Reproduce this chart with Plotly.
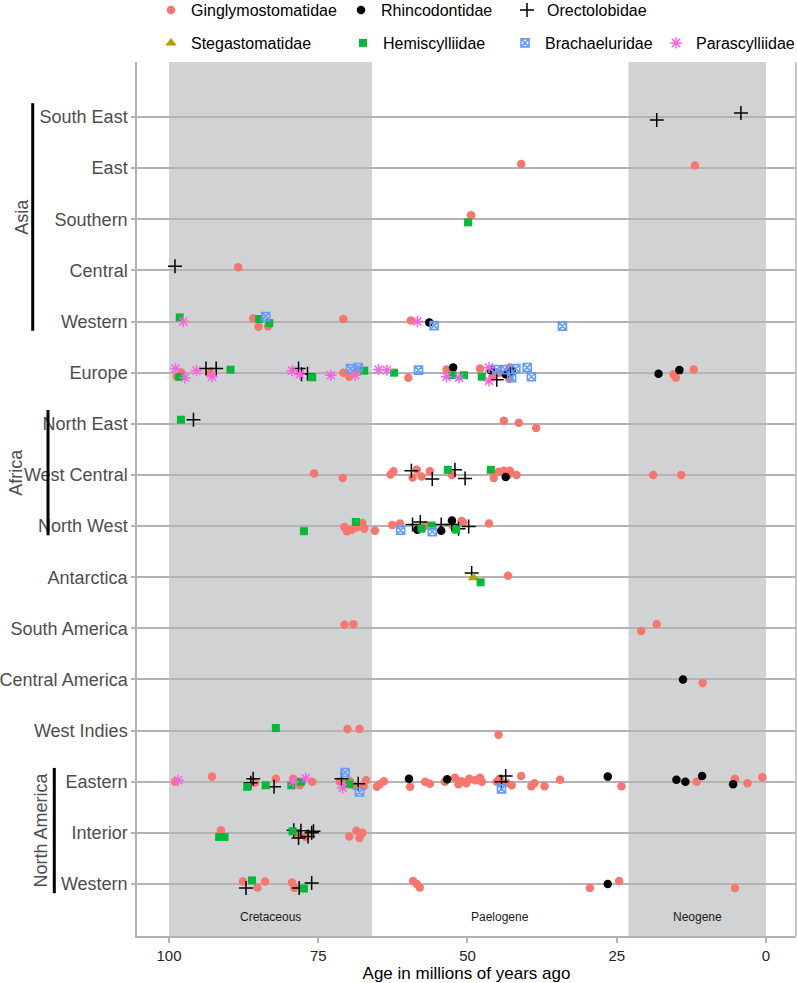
import plotly.graph_objects as go

# ---------------- data ----------------
# regions, bottom -> top
region_keys = ["WNAm", "INAm", "ENAm", "WIndies", "CAm", "SAm", "Antarctica",
               "NWAfr", "WCAfr", "NEAfr", "Europe", "WAsia", "CAsia", "SAsia",
               "EAsia", "SEAsia"]
region_labels = ["Western", "Interior", "Eastern", "West Indies", "Central America",
                 "South America", "Antarctica", "North West", "West Central",
                 "North East", "Europe", "Western", "Central", "Southern", "East",
                 "South East"]

# (region, age in Ma, vertical jitter in row units)
ginglymostomatidae = [
    ("EAsia", 41.0, 0.08), ("EAsia", 11.9, 0.05),
    ("SAsia", 49.4, 0.08),
    ("CAsia", 88.4, 0.06),
    ("WAsia", 85.9, 0.06), ("WAsia", 85.0, -0.1), ("WAsia", 83.4, -0.09),
    ("WAsia", 70.8, 0.05), ("WAsia", 59.5, 0.02),
    ("Europe", 98.7, -0.08), ("Europe", 97.9, 0.0), ("Europe", 93.1, 0.0),
    ("Europe", 70.8, 0.0), ("Europe", 69.8, -0.08), ("Europe", 68.4, 0.05),
    ("Europe", 59.9, -0.1), ("Europe", 53.5, 0.06), ("Europe", 47.9, 0.08),
    ("Europe", 45.7, -0.07), ("Europe", 44.6, 0.0), ("Europe", 43.0, -0.12),
    ("Europe", 42.9, 0.1), ("Europe", 15.5, -0.03), ("Europe", 15.1, -0.1),
    ("Europe", 12.1, 0.06),
    ("NEAfr", 43.9, 0.06), ("NEAfr", 41.4, 0.02), ("NEAfr", 38.5, -0.08),
    ("WCAfr", 75.7, 0.03), ("WCAfr", 70.9, -0.06), ("WCAfr", 62.9, 0.01),
    ("WCAfr", 62.4, 0.07), ("WCAfr", 58.5, 0.1), ("WCAfr", 59.2, -0.05),
    ("WCAfr", 57.7, -0.03), ("WCAfr", 56.3, 0.07), ("WCAfr", 52.6, 0.0),
    ("WCAfr", 45.6, -0.06), ("WCAfr", 44.8, 0.06), ("WCAfr", 43.9, 0.08),
    ("WCAfr", 42.9, 0.08), ("WCAfr", 43.2, 0.0), ("WCAfr", 41.8, 0.0),
    ("WCAfr", 18.9, 0.0), ("WCAfr", 14.2, 0.0),
    ("NWAfr", 70.6, -0.02), ("NWAfr", 70.2, -0.1), ("NWAfr", 69.4, -0.07),
    ("NWAfr", 68.6, -0.03), ("NWAfr", 67.6, 0.06), ("NWAfr", 67.3, -0.05),
    ("NWAfr", 65.5, -0.09), ("NWAfr", 62.6, 0.02), ("NWAfr", 61.3, 0.05),
    ("NWAfr", 57.4, -0.02), ("NWAfr", 56.9, 0.01), ("NWAfr", 52.5, 0.01),
    ("NWAfr", 51.0, 0.1), ("NWAfr", 50.7, 0.07), ("NWAfr", 46.4, 0.05),
    ("Antarctica", 43.2, 0.03),
    ("SAm", 70.6, 0.07), ("SAm", 69.1, 0.08), ("SAm", 20.9, -0.05), ("SAm", 18.3, 0.08),
    ("CAm", 10.6, -0.07),
    ("WIndies", 70.1, 0.03), ("WIndies", 68.1, 0.03), ("WIndies", 44.8, -0.08),
    ("ENAm", 99.0, 0.0), ("ENAm", 92.8, 0.1), ("ENAm", 85.6, -0.02),
    ("ENAm", 82.1, 0.06), ("ENAm", 79.2, 0.06), ("ENAm", 78.1, -0.07),
    ("ENAm", 76.0, 0.0), ("ENAm", 71.4, 0.0), ("ENAm", 70.5, -0.05),
    ("ENAm", 69.7, 0.01), ("ENAm", 68.8, -0.09), ("ENAm", 67.4, -0.09),
    ("ENAm", 67.0, 0.03), ("ENAm", 65.2, -0.1), ("ENAm", 64.7, -0.05),
    ("ENAm", 64.0, 0.01), ("ENAm", 59.6, -0.1), ("ENAm", 57.1, 0.0),
    ("ENAm", 56.3, -0.04), ("ENAm", 53.8, 0.0), ("ENAm", 52.1, 0.08),
    ("ENAm", 51.5, -0.05), ("ENAm", 51.0, 0.01), ("ENAm", 50.2, -0.03),
    ("ENAm", 49.7, 0.06), ("ENAm", 48.7, 0.03), ("ENAm", 47.9, 0.08),
    ("ENAm", 47.6, 0.0), ("ENAm", 45.1, 0.0), ("ENAm", 44.6, 0.06),
    ("ENAm", 43.5, -0.02), ("ENAm", 42.6, -0.07), ("ENAm", 41.0, 0.11),
    ("ENAm", 39.3, -0.09), ("ENAm", 38.8, -0.03), ("ENAm", 37.1, -0.09),
    ("ENAm", 34.5, 0.04), ("ENAm", 24.2, -0.09), ("ENAm", 11.6, 0.0),
    ("ENAm", 5.2, 0.06), ("ENAm", 3.1, -0.03), ("ENAm", 0.6, 0.09),
    ("INAm", 91.3, 0.05), ("INAm", 78.3, -0.03), ("INAm", 77.1, -0.08),
    ("INAm", 69.8, -0.07), ("INAm", 68.6, 0.04), ("INAm", 68.1, -0.1),
    ("INAm", 67.6, 0.0),
    ("WNAm", 87.6, 0.05), ("WNAm", 85.2, -0.07), ("WNAm", 83.9, 0.05),
    ("WNAm", 79.4, 0.03), ("WNAm", 79.0, -0.08), ("WNAm", 59.1, 0.06),
    ("WNAm", 58.5, 0.0), ("WNAm", 58.0, -0.07), ("WNAm", 29.5, -0.08),
    ("WNAm", 24.6, 0.06), ("WNAm", 5.2, -0.08),
]

rhincodontidae = [
    ("WAsia", 56.4, -0.02),
    ("Europe", 52.4, 0.1), ("Europe", 46.1, 0.05), ("Europe", 43.6, -0.03),
    ("Europe", 42.6, 0.03), ("Europe", 18.0, -0.02), ("Europe", 14.5, 0.05),
    ("WCAfr", 43.6, -0.04),
    ("NWAfr", 58.4, -0.07), ("NWAfr", 54.4, -0.09), ("NWAfr", 52.6, 0.11),
    ("CAm", 13.9, 0.0),
    ("ENAm", 59.8, 0.06), ("ENAm", 53.4, 0.05), ("ENAm", 26.5, 0.1),
    ("ENAm", 15.0, 0.04), ("ENAm", 13.5, 0.0), ("ENAm", 10.7, 0.11),
    ("ENAm", 5.5, -0.05),
    ("WNAm", 26.5, 0.0),
]

orectolobidae = [
    ("SEAsia", 18.3, -0.06), ("SEAsia", 4.2, 0.08),
    ("CAsia", 99.0, 0.08),
    ("Europe", 93.8, 0.08), ("Europe", 92.1, 0.08), ("Europe", 78.3, 0.08),
    ("Europe", 77.8, -0.03), ("Europe", 76.8, -0.02), ("Europe", 45.1, -0.14),
    ("NEAfr", 95.9, 0.08),
    ("WCAfr", 59.4, 0.08), ("WCAfr", 55.9, -0.08), ("WCAfr", 52.1, 0.1),
    ("WCAfr", 50.4, -0.07),
    ("NWAfr", 59.2, 0.03), ("NWAfr", 57.9, 0.08), ("NWAfr", 54.4, 0.03),
    ("NWAfr", 52.6, 0.03), ("NWAfr", 51.5, -0.05), ("NWAfr", 49.8, -0.01),
    ("Antarctica", 49.3, 0.08),
    ("ENAm", 85.9, 0.06), ("ENAm", 86.3, -0.02), ("ENAm", 82.4, -0.1),
    ("ENAm", 71.1, 0.06), ("ENAm", 68.3, -0.04), ("ENAm", 43.6, 0.11),
    ("ENAm", 44.3, 0.0),
    ("INAm", 79.1, 0.05), ("INAm", 77.9, 0.04), ("INAm", 78.3, -0.1),
    ("INAm", 76.7, -0.07), ("INAm", 75.8, 0.03), ("INAm", 76.1, 0.0),
    ("WNAm", 87.1, -0.08), ("WNAm", 78.2, -0.08), ("WNAm", 76.1, 0.02),
]

stegastomatidae = [
    ("Antarctica", 49.0, -0.01),
]

hemiscylliidae = [
    ("SAsia", 49.9, -0.06),
    ("WAsia", 98.2, 0.08), ("WAsia", 84.9, 0.05), ("WAsia", 83.2, -0.03),
    ("Europe", 98.3, -0.08), ("Europe", 89.7, 0.06), ("Europe", 76.0, -0.09),
    ("Europe", 67.3, 0.04), ("Europe", 62.3, 0.0), ("Europe", 52.5, -0.05),
    ("Europe", 50.6, -0.05), ("Europe", 47.6, -0.08),
    ("NEAfr", 98.0, 0.08),
    ("WCAfr", 53.3, 0.1), ("WCAfr", 46.1, 0.1),
    ("NWAfr", 77.4, -0.1), ("NWAfr", 68.7, 0.08), ("NWAfr", 57.7, -0.05),
    ("NWAfr", 56.0, 0.01), ("NWAfr", 51.9, -0.07),
    ("Antarctica", 47.8, -0.1),
    ("WIndies", 82.1, 0.05),
    ("ENAm", 86.9, -0.1), ("ENAm", 83.8, -0.07), ("ENAm", 79.5, -0.07),
    ("ENAm", 77.9, 0.0), ("ENAm", 69.8, -0.05),
    ("INAm", 91.6, -0.08), ("INAm", 90.7, -0.08), ("INAm", 79.3, 0.03),
    ("WNAm", 86.1, 0.07), ("WNAm", 77.4, -0.09),
]

brachaeluridae = [
    ("WAsia", 83.8, 0.1), ("WAsia", 55.6, -0.08), ("WAsia", 34.1, -0.09),
    ("Europe", 69.6, 0.08), ("Europe", 68.3, 0.1), ("Europe", 58.2, 0.05),
    ("Europe", 45.1, 0.06), ("Europe", 43.7, 0.06), ("Europe", 42.6, -0.1),
    ("Europe", 41.9, 0.08), ("Europe", 40.0, 0.1), ("Europe", 39.3, -0.08),
    ("NWAfr", 61.2, -0.08), ("NWAfr", 55.9, -0.11),
    ("ENAm", 70.5, 0.18), ("ENAm", 68.1, -0.2), ("ENAm", 44.3, -0.14),
]

parascylliidae = [
    ("WAsia", 97.6, 0.0), ("WAsia", 58.4, 0.0),
    ("Europe", 98.9, 0.08), ("Europe", 97.3, -0.1), ("Europe", 95.4, 0.04),
    ("Europe", 92.8, -0.08), ("Europe", 79.4, 0.04), ("Europe", 78.1, -0.03),
    ("Europe", 72.9, -0.05), ("Europe", 68.8, -0.05), ("Europe", 64.9, 0.06),
    ("Europe", 63.5, 0.05), ("Europe", 53.5, -0.08), ("Europe", 51.4, -0.1),
    ("Europe", 46.4, 0.1), ("Europe", 46.4, -0.16),
    ("ENAm", 98.5, 0.03), ("ENAm", 79.2, 0.0), ("ENAm", 77.1, 0.07),
    ("ENAm", 70.9, -0.12),
]

periods = ["Cretaceous", "Paelogene", "Neogene"]
period_start = [100.0, 66.0, 23.03]
period_end = [66.0, 23.03, 0.0]
period_shaded = [True, False, True]

groups = ["Asia", "Africa", "North America"]
group_top = ["SEAsia", "NEAfr", "ENAm"]
group_bottom = ["WAsia", "NWAfr", "WNAm"]

x_ticks = [100, 75, 50, 25, 0]

# ---------------- figure ----------------
FONT = "Liberation Sans, Arial, Helvetica, sans-serif"
W, H = 797, 983
ML, MR, MT, MB = 137, 1, 62, 47
PW = W - ML - MR

def px_to_paper_x(px):
    return (px - ML) / PW

idx = {k: i + 1 for i, k in enumerate(region_keys)}

families = [
    ("Ginglymostomatidae", ginglymostomatidae,
     dict(symbol="circle", color="#F8766D", size=8.5, line=dict(width=0))),
    ("Rhincodontidae", rhincodontidae,
     dict(symbol="circle", color="#000000", size=8.5, line=dict(width=0))),
    ("Orectolobidae", orectolobidae,
     dict(symbol="cross-thin", color="#000000", size=10,
          line=dict(color="#000000", width=1.5))),
    ("Stegastomatidae", stegastomatidae,
     dict(symbol="triangle-up", color="#B79F00", size=10, line=dict(width=0))),
    ("Hemiscylliidae", hemiscylliidae,
     dict(symbol="square", color="#00BA38", size=8, line=dict(width=0))),
    ("Brachaeluridae", brachaeluridae,
     dict(symbol="square-x-open", color="#619CFF", size=8,
          line=dict(color="#619CFF", width=1.6))),
    ("Parascylliidae", parascylliidae,
     dict(symbol="asterisk-open", color="#F564E3", size=9.5,
          line=dict(color="#F564E3", width=1.5))),
]

# legend slot positions (marker centre in px) : 3 in first row, 4 in second
legend_px = [(171, 10), (361, 10), (527, 10),
             (171, 43), (363, 43), (525, 43), (676, 43)]
LEG_MARKER_OFFSET = 20   # px from legend left edge to symbol centre

fig = go.Figure()
legend_layouts = {}
for i, (name, pts, mk) in enumerate(families):
    lname = "legend" if i == 0 else f"legend{i + 1}"
    fig.add_trace(go.Scatter(
        x=[p[1] for p in pts],
        y=[idx[p[0]] + p[2] for p in pts],
        mode="markers", name=name, marker=mk, legend=lname,
        hoverinfo="skip",
    ))
    lx, ly = legend_px[i]
    legend_layouts[lname] = dict(
        orientation="h", xref="container", yref="container",
        x=(lx - LEG_MARKER_OFFSET) / W, y=1 - ly / H,
        xanchor="left", yanchor="middle",
        font=dict(family=FONT, size=16, color="#000000"),
        bgcolor="rgba(0,0,0,0)", borderwidth=0, itemclick=False,
    )

shapes = []
for s, e, sh in zip(period_start, period_end, period_shaded):
    if sh:
        shapes.append(dict(type="rect", xref="x", yref="paper", x0=s, x1=e,
                           y0=0, y1=1, fillcolor="#D1D2D4", line=dict(width=0),
                           layer="below"))
# right panel border
shapes.append(dict(type="line", xref="paper", yref="paper", x0=1, x1=1, y0=0, y1=1,
                   line=dict(color="#B3B3B3", width=1.5), layer="below"))

annotations = []
for name, s, e in zip(periods, period_start, period_end):
    annotations.append(dict(x=(s + e) / 2, y=0.355, xref="x", yref="y", text=name,
                            showarrow=False, font=dict(family=FONT, size=12,
                                                       color="#1A1A1A")))

group_bar_px = [32.7, 48, 54.3]
group_text_px = [21.7, 16, 41]
for g, top, bot, bx, tx in zip(groups, group_top, group_bottom, group_bar_px,
                               group_text_px):
    y0 = idx[bot] - 0.18
    y1 = idx[top] + 0.27
    shapes.append(dict(type="line", xref="paper", yref="y",
                       x0=px_to_paper_x(bx), x1=px_to_paper_x(bx), y0=y0, y1=y1,
                       line=dict(color="#000000", width=3)))
    annotations.append(dict(x=px_to_paper_x(tx), y=(y0 + y1) / 2, xref="paper",
                            yref="y", text=g, textangle=-90, showarrow=False,
                            xanchor="center", yanchor="middle",
                            font=dict(family=FONT, size=18, color="#4D4D4D")))

fig.update_layout(
    width=W, height=H,
    margin=dict(l=ML, r=MR, t=MT, b=MB, autoexpand=False),
    paper_bgcolor="white", plot_bgcolor="white",
    font=dict(family=FONT),
    shapes=shapes, annotations=annotations,
    showlegend=True, hovermode=False,
    **legend_layouts,
)
fig.update_xaxes(
    range=[105.36, -5.03], tickvals=x_ticks, ticktext=[str(t) for t in x_ticks],
    showgrid=False, zeroline=False, showline=True, linecolor="#B3B3B3",
    linewidth=1.5, ticks="outside", ticklen=5, tickcolor="#B3B3B3", tickwidth=1.5,
    tickfont=dict(family=FONT, size=15, color="#262626"), automargin=False,
    title=dict(text="Age in millions of years ago",
               font=dict(family=FONT, size=17, color="#000000"), standoff=2),
)
fig.update_yaxes(
    range=[-0.017, 17.076], tickvals=list(range(1, len(region_keys) + 1)),
    ticktext=region_labels, showgrid=True, gridcolor="#B3B3B3", gridwidth=1.5,
    zeroline=False, showline=True, linecolor="#B3B3B3", linewidth=1.5,
    ticks="outside", ticklen=4, tickcolor="#B3B3B3", tickwidth=1.5,
    tickfont=dict(family=FONT, size=18, color="#4D4D4D"), automargin=False,
)

# the page's default 8px body margin would push the figure off its 797x983 frame
fig.write_html(
    "out.html",
    config={"displayModeBar": False},
    post_script="document.body.style.margin='0px';"
                "document.body.style.overflow='hidden';",
)
